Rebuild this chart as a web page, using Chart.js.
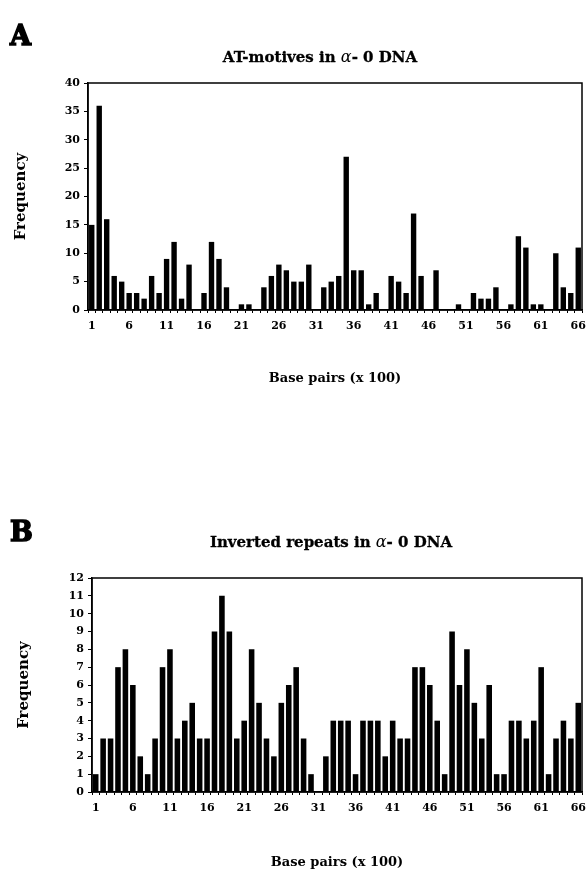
<!DOCTYPE html>
<html>
<head>
<meta charset="utf-8">
<script src="https://cdn.jsdelivr.net/npm/chart.js@4/dist/chart.umd.min.js"></script>
<style>
  body { margin: 0; background: #fff; width: 587px; height: 879px; position: relative; overflow: hidden; font-family: "DejaVu Serif", serif; }
  .panel { position: absolute; left: 0; width: 587px; }
  .letter { position: absolute; font-weight: bold; font-size: 27px; line-height: 1; z-index: 2; -webkit-text-stroke: 1.5px #000; }
  .title { position: absolute; font-weight: bold; font-size: 15px; white-space: nowrap; transform: translate(-50%, -50%); z-index: 2; -webkit-text-stroke: 0.3px #000; }
  .title i { font-weight: normal; font-size: 16px; -webkit-text-stroke: 0; }
</style>
</head>
<body>
<div class="letter" style="left:10px;top:22px">A</div>
<div class="title" style="left:320px;top:56px">AT-motives in <i>α</i>- 0 DNA</div>
<div class="panel" style="top:0;height:420px"><canvas id="chartA"></canvas></div>

<div class="letter" style="left:10px;top:518px">B</div>
<div class="title" style="left:331px;top:541px">Inverted repeats in <i>α</i>- 0 DNA</div>
<div class="panel" style="top:480px;height:399px"><canvas id="chartB"></canvas></div>

<script>
// base pair positions (x 100), 1..66
const basePairs = ['1','2','3','4','5','6','7','8','9','10','11','12','13','14','15','16','17','18','19','20',
  '21','22','23','24','25','26','27','28','29','30','31','32','33','34','35','36','37','38','39','40',
  '41','42','43','44','45','46','47','48','49','50','51','52','53','54','55','56','57','58','59','60',
  '61','62','63','64','65','66'];

// panel A: AT-motives
const atMotives = [15, 36, 16, 6, 5, 3, 3, 2, 6, 3, 9, 12, 2, 8, 0, 3, 12, 9, 4, 0,
  1, 1, 0, 4, 6, 8, 7, 5, 5, 8, 0, 4, 5, 6, 27, 7, 7, 1, 3, 0,
  6, 5, 3, 17, 6, 0, 7, 0, 0, 1, 0, 3, 2, 2, 4, 0, 1, 13, 11, 1,
  1, 0, 10, 4, 3, 11];

// panel B: inverted repeats
const invRepeats = [1, 3, 3, 7, 8, 6, 2, 1, 3, 7, 8, 3, 4, 5, 3, 3, 9, 11, 9, 3,
  4, 8, 5, 3, 2, 5, 6, 7, 3, 1, 0, 2, 4, 4, 4, 1, 4, 4, 4, 2,
  4, 3, 3, 7, 7, 6, 4, 1, 9, 6, 8, 5, 3, 6, 1, 1, 4, 4, 3, 4,
  7, 1, 3, 4, 3, 5];

const yTicksA = { max: 40, step: 5 };
const yTicksB = { max: 12, step: 1 };

const fontFamily = '"DejaVu Serif", serif';

// draws the box around the plot area
const framePlugin = {
  id: 'frame',
  afterDatasetsDraw(chart) {
    const { ctx, chartArea: a } = chart;
    ctx.save();
    ctx.strokeStyle = '#000';
    ctx.lineWidth = 1.5;
    ctx.strokeRect(a.left, a.top, a.right - a.left, a.bottom - a.top);
    ctx.restore();
  }
};

function makeChart(id, values, yt, opts) {
  const ctx = document.getElementById(id).getContext('2d');
  return new Chart(ctx, {
    type: 'bar',
    data: {
      labels: basePairs,
      datasets: [{
        data: values,
        backgroundColor: '#000',
        borderWidth: 0,
        barPercentage: opts.barPct,
        categoryPercentage: 1
      }]
    },
    options: {
      responsive: true,
      maintainAspectRatio: false,
      animation: false,
      layout: { padding: { top: opts.top, right: 5, left: 0, bottom: 0 } },
      plugins: { legend: { display: false }, tooltip: { enabled: false } },
      scales: {
        x: {
          grid: { display: true, drawOnChartArea: false, tickLength: 3, color: '#000' },
          border: { color: '#000', width: 1.5 },
          ticks: {
            autoSkip: false,
            maxRotation: 0,
            padding: 7,
            color: '#000',
            font: { family: fontFamily, size: 11, weight: 'bold' },
            callback: (v, i) => (i % 5 === 0 ? basePairs[i] : '')
          },
          title: {
            display: true,
            text: 'Base pairs (x 100)',
            color: '#000',
            font: { family: fontFamily, size: 13, weight: 'bold' },
            padding: { top: 0, bottom: opts.xTitlePad }
          },
          afterFit: s => { s.height = opts.xHeight; s.paddingLeft = 0; s.paddingRight = 0; }
        },
        y: {
          min: 0,
          max: yt.max,
          grid: { display: true, drawOnChartArea: false, tickLength: 4, color: '#000' },
          border: { color: '#000', width: 1.5 },
          ticks: {
            stepSize: yt.step,
            padding: 4,
            color: '#000',
            font: { family: fontFamily, size: 11, weight: 'bold' }
          },
          title: {
            display: true,
            text: 'Frequency',
            color: '#000',
            font: { family: fontFamily, size: 15, weight: 'bold' },
            padding: { top: opts.yTitlePad, bottom: 0 }
          },
          afterFit: s => { s.width = opts.yWidth; }
        }
      }
    },
    plugins: [framePlugin]
  });
}

makeChart('chartA', atMotives, yTicksA, { top: 83, xHeight: 110, yWidth: 88, xTitlePad: 34, yTitlePad: 12, barPct: 0.72 });
makeChart('chartB', invRepeats, yTicksB, { top: 98, xHeight: 87, yWidth: 92, xTitlePad: 9, yTitlePad: 15, barPct: 0.75 });
</script>
</body>
</html>
